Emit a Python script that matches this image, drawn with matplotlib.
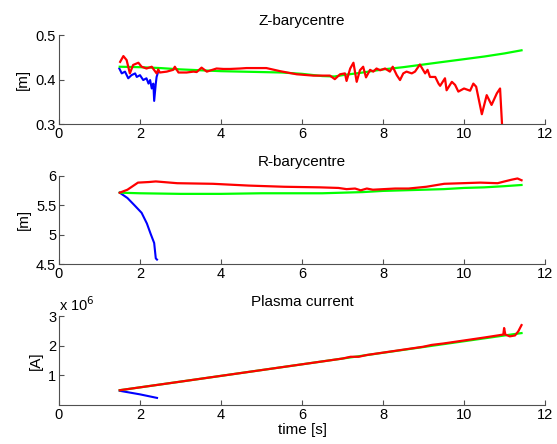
import matplotlib
matplotlib.use("Agg")
import matplotlib.pyplot as plt
from matplotlib.ticker import FuncFormatter

plt.rcParams['font.family'] = ['Liberation Sans', 'DejaVu Sans']

# ---- Z-barycentre [m] ----
z_blue_t = [1.49, 1.55, 1.63, 1.71, 1.79, 1.88, 1.92, 2.00, 2.08, 2.16, 2.21, 2.25,
            2.29, 2.33, 2.35, 2.39, 2.41, 2.45]
z_blue = [0.425, 0.414, 0.418, 0.403, 0.410, 0.414, 0.406, 0.410, 0.399, 0.403, 0.391, 0.399,
          0.380, 0.391, 0.352, 0.391, 0.406, 0.418]

z_green_t = [1.5, 2.0, 2.5, 3.0, 3.5, 4.0, 4.5, 5.0, 5.5, 6.0, 6.5, 6.8, 7.0, 7.5, 8.0,
             8.5, 9.0, 9.41, 10.0, 10.5, 11.0, 11.42]
z_green = [0.429, 0.428, 0.426, 0.423, 0.421, 0.419, 0.418, 0.417, 0.416, 0.413, 0.408, 0.407,
           0.410, 0.416, 0.423, 0.428, 0.434, 0.439, 0.446, 0.452, 0.459, 0.466]

z_red_t = [1.51, 1.59, 1.67, 1.75, 1.83, 1.96, 2.04, 2.16, 2.29, 2.41, 2.45, 2.49, 2.66, 2.82,
           2.86, 2.95, 3.15, 3.32, 3.40, 3.52, 3.65, 3.89, 4.06, 4.22, 4.47, 4.63, 4.96, 5.12,
           5.46, 5.87, 6.28, 6.69, 6.81, 6.94, 7.06, 7.10, 7.19, 7.27, 7.35, 7.43, 7.51, 7.58,
           7.68, 7.76, 7.84, 7.93, 8.05, 8.17, 8.24, 8.34, 8.42, 8.50, 8.58, 8.71, 8.79, 8.91,
           9.04, 9.10, 9.16, 9.29, 9.37, 9.41, 9.53, 9.57, 9.70, 9.78, 9.86, 10.00, 10.15,
           10.23, 10.30, 10.44, 10.56, 10.68, 10.81, 10.89, 10.95]
z_red = [0.440, 0.453, 0.444, 0.414, 0.433, 0.438, 0.429, 0.425, 0.429, 0.414, 0.423, 0.416,
         0.418, 0.422, 0.429, 0.416, 0.416, 0.418, 0.417, 0.427, 0.418, 0.425, 0.424, 0.424,
         0.425, 0.426, 0.426, 0.426, 0.419, 0.412, 0.409, 0.409, 0.401, 0.412, 0.414, 0.397,
         0.425, 0.438, 0.395, 0.421, 0.429, 0.405, 0.422, 0.418, 0.425, 0.421, 0.425, 0.418,
         0.429, 0.410, 0.399, 0.414, 0.418, 0.414, 0.418, 0.434, 0.414, 0.422, 0.406, 0.406,
         0.391, 0.386, 0.403, 0.376, 0.395, 0.388, 0.373, 0.380, 0.375, 0.391, 0.384, 0.322,
         0.365, 0.343, 0.369, 0.380, 0.280]

# ---- R-barycentre [m] ----
r_blue_t = [1.50, 1.69, 1.86, 2.04, 2.17, 2.26, 2.35, 2.39, 2.42]
r_blue = [5.71, 5.62, 5.50, 5.37, 5.19, 5.02, 4.86, 4.60, 4.58]

r_green_t = [1.5, 2.0, 3.0, 4.0, 5.0, 6.0, 6.5, 7.0, 7.5, 8.0, 8.5, 9.0, 9.5, 10.0, 10.5,
             11.0, 11.42]
r_green = [5.71, 5.70, 5.69, 5.69, 5.70, 5.70, 5.70, 5.71, 5.72, 5.74, 5.75, 5.76, 5.77,
           5.79, 5.80, 5.82, 5.84]

r_red_t = [1.50, 1.69, 1.82, 1.95, 2.22, 2.39, 2.92, 3.80, 4.68, 5.56, 6.44, 6.90, 7.10,
           7.31, 7.45, 7.60, 7.75, 8.02, 8.30, 8.63, 9.07, 9.51, 9.95, 10.40, 10.83, 11.00,
           11.18, 11.32, 11.42]
r_red = [5.71, 5.76, 5.82, 5.88, 5.89, 5.90, 5.87, 5.86, 5.83, 5.81, 5.80, 5.79, 5.77,
         5.78, 5.75, 5.78, 5.76, 5.77, 5.78, 5.78, 5.81, 5.86, 5.87, 5.88, 5.87, 5.90,
         5.93, 5.95, 5.92]

# ---- Plasma current [A] ----
i_blue_t = [1.50, 2.00, 2.42]
i_blue = [0.48e6, 0.36e6, 0.24e6]

i_green_t = [1.5, 3.0, 5.0, 7.0, 9.0, 9.41, 11.0, 11.42]
i_green = [0.50e6, 0.79e6, 1.18e6, 1.57e6, 1.96e6, 2.04e6, 2.35e6, 2.43e6]

i_red_t = [1.5, 3.0, 5.0, 7.0, 7.2, 7.4, 7.6, 8.0, 8.5, 9.0, 9.2, 9.5, 10.0, 10.5, 10.97,
           10.99, 11.02, 11.13, 11.26, 11.34, 11.42]
i_red = [0.50e6, 0.79e6, 1.18e6, 1.57e6, 1.63e6, 1.63e6, 1.69e6, 1.77e6, 1.87e6, 1.97e6,
         2.03e6, 2.08e6, 2.18e6, 2.28e6, 2.38e6, 2.60e6, 2.38e6, 2.32e6, 2.35e6, 2.49e6, 2.70e6]

titles = ['Z-barycentre', 'R-barycentre', 'Plasma current']
ylabels = ['[m]', '[m]', '[A]']

fig = plt.figure(figsize=(5.57, 4.44), dpi=100)
left, width, height = 0.1059, 0.8726, 0.2
bottoms = [0.7207, 0.4047, 0.0878]
axes = [fig.add_axes([left, b, width, height]) for b in bottoms]

data = [
    (z_blue_t, z_blue, z_green_t, z_green, z_red_t, z_red),
    (r_blue_t, r_blue, r_green_t, r_green, r_red_t, r_red),
    (i_blue_t, i_blue, i_green_t, i_green, i_red_t, i_red),
]
ylims = [(0.3, 0.5), (4.5, 6.0), (0, 3e6)]
yticks = [[0.3, 0.4, 0.5], [4.5, 5, 5.5, 6], [1e6, 2e6, 3e6]]

axis_col = '#505050'
for ax, d, title, ylab, yl, yt in zip(axes, data, titles, ylabels, ylims, yticks):
    bt, bv, gt, gv, rt, rv = d
    ax.plot(bt, bv, color=(0, 0, 1), lw=1.5)
    ax.plot(gt, gv, color=(0, 1, 0), lw=1.6)
    ax.plot(rt, rv, color=(1, 0, 0), lw=1.6)
    ax.set_xlim(0, 12)
    ax.set_ylim(*yl)
    ax.set_xticks(range(0, 13, 2))
    ax.set_yticks(yt)
    ax.yaxis.set_major_formatter(FuncFormatter(lambda v, p: f'{v:g}'))
    ax.set_title(title, fontsize=11, pad=7)
    ax.set_ylabel(ylab, fontsize=11, labelpad=4)
    for s in ['top', 'right']:
        ax.spines[s].set_visible(False)
    for s in ['left', 'bottom']:
        ax.spines[s].set_color(axis_col)
        ax.spines[s].set_linewidth(0.8)
    ax.tick_params(direction='in', length=3.5, width=0.8, color=axis_col,
                   labelsize=10.5, pad=2)

axes[2].yaxis.set_major_formatter(FuncFormatter(lambda v, p: f'{v / 1e6:g}'))
axes[2].text(0.0, 1.03, r'x 10$^6$', transform=axes[2].transAxes, fontsize=10.5,
             ha='left', va='bottom')
axes[2].set_xlabel('time [s]', fontsize=11, labelpad=1)

fig.savefig('out.png', dpi=100)
